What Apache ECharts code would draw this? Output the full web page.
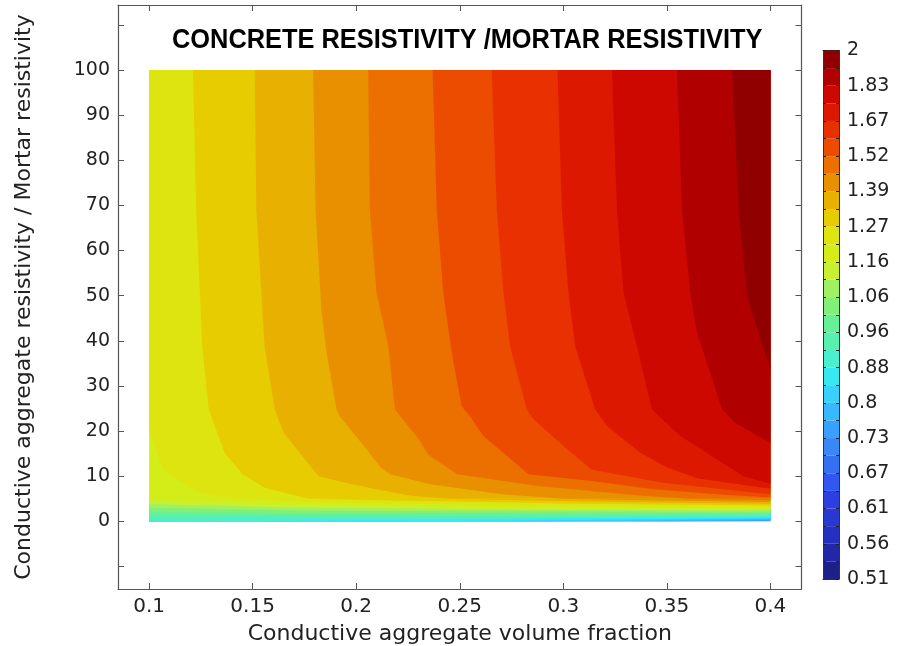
<!DOCTYPE html>
<html><head><meta charset="utf-8">
<script src="https://cdn.jsdelivr.net/npm/echarts@6/dist/echarts.min.js"></script>
<style>html,body{margin:0;padding:0;background:#fff}#c{width:901px;height:646px}</style>
</head><body><div id="c"></div>
<script>
// ---- contour levels (log-spaced, 30 bands) ----
const levels = [0.51,0.53377,0.55864,0.58467,0.61191,0.64043,0.67027,0.70150,0.73419,0.76840,
  0.80421,0.84168,0.88090,0.92195,0.96491,1.00987,1.05693,1.10618,1.15772,1.21167,
  1.26813,1.32722,1.38907,1.45379,1.52154,1.59243,1.66664,1.74430,1.82558,1.91065,2.0];
const bandColors = ['#1c2088','#2028a8','#2430c0','#2838d0','#2c40e0','#3058f0','#3470f0','#3888f8','#38a0ff','#38b8ff',
  '#38d0ff','#38e8f0','#48f0d0','#58f0b0','#68f098','#80f078','#a0f060','#c8f030','#d4ec18','#dde40f',
  '#e6cc00','#e8b000','#e89000','#ec7000','#ec4c00','#e83000','#dc1800','#cc0800','#b00000','#900000'];
const cbarTickLabels = ['0.51','0.56','0.61','0.67','0.73','0.8','0.88','0.96','1.06','1.16','1.27','1.39','1.52','1.67','1.83','2'];
const xTicks = [0.1,0.15,0.2,0.25,0.3,0.35,0.4];
const xTickLabels = ['0.1','0.15','0.2','0.25','0.3','0.35','0.4'];
const yTicks = [-10,0,10,20,30,40,50,60,70,80,90,100,110];
const yLabelValues = [0,10,20,30,40,50,60,70,80,90,100];
const yTickLabels = ['0','10','20','30','40','50','60','70','80','90','100'];

// ---- contour lines of the upper region (x = volume fraction, y = resistivity ratio) ----
const contour19 = [[0.1,20.4],[0.1067,11.5],[0.1244,6.35],[0.14,5]];
const contour20 = [[0.1212,100],[0.1228,69],[0.1257,38.8],[0.1288,24.8],[0.1365,15.2],[0.1452,10.4],[0.1558,7.46],[0.177,5]];
const contour21 = [[0.151,100],[0.1518,69],[0.1542,50.7],[0.1558,38.8],[0.1607,24.8],[0.165,19.6],[0.1818,10],[0.1948,8.56],[0.2099,7.08],[0.2272,5.6],[0.245,5]];
const contour22 = [[0.1792,100],[0.1804,69],[0.1833,46.2],[0.1857,37.4],[0.1905,24.8],[0.1921,23.3],[0.2012,18.1],[0.2119,11.9],[0.2163,10.4],[0.2356,8.19],[0.2703,5.97],[0.3,5]];
const contour23 = [[0.2058,100],[0.2066,69],[0.2098,50.7],[0.2155,38.8],[0.2187,24.8],[0.2303,18.1],[0.2347,14.8],[0.2487,10.4],[0.2876,7.81],[0.3351,5.75],[0.36,5]];
const contour24 = [[0.2369,100],[0.2389,69],[0.242,50.7],[0.2461,37.4],[0.2509,25.5],[0.2549,23.3],[0.2614,18.9],[0.2832,10.4],[0.3135,8.92],[0.3437,7.08],[0.3739,5.97],[0.4,5.3]];
const contour25 = [[0.2654,100],[0.2679,69],[0.2711,50.7],[0.2743,38.8],[0.2824,24.8],[0.2856,22.6],[0.3001,16.7],[0.3135,11.5],[0.348,8.56],[0.4,6.0]];
const contour26 = [[0.2972,100],[0.2993,69],[0.3025,50.7],[0.3057,38.8],[0.3154,24.8],[0.3211,21.1],[0.3372,15.2],[0.3502,11.9],[0.3652,9.5],[0.4,7.2]];
const contour27 = [[0.3235,100],[0.3259,69],[0.3291,50.7],[0.3363,37.4],[0.3428,24.8],[0.3565,18.9],[0.387,10],[0.4,8.3]];
const contour28 = [[0.3549,100],[0.3573,69],[0.3613,50.7],[0.3646,41.8],[0.3767,24.8],[0.3831,21.8],[0.4,17.4]];
const contour29 = [[0.3815,100],[0.3847,69],[0.3887,49.8],[0.4,33.6]];
const upperContours = [
  {k:19, pts:contour19},{k:20, pts:contour20},{k:21, pts:contour21},{k:22, pts:contour22},
  {k:23, pts:contour23},{k:24, pts:contour24},{k:25, pts:contour25},{k:26, pts:contour26},
  {k:27, pts:contour27},{k:28, pts:contour28},{k:29, pts:contour29}];

// ---- bottom strip: field values on two rows ----
const stripY = [0, 5];
const stripX  = [0.1,0.125,0.15,0.175,0.2,0.225,0.25,0.275,0.3,0.325,0.35,0.375,0.4];
const stripV0 = [0.89,0.885,0.875,0.865,0.855,0.845,0.835,0.82,0.805,0.79,0.77,0.75,0.725];
const stripV5 = [1.17,1.195,1.225,1.265,1.288,1.308,1.331,1.357,1.388,1.415,1.442,1.47,1.50];

const X0 = stripX[0], X1 = stripX[stripX.length-1], YTOP = 100;

function renderField(params, api) {
  const P = p => api.coord(p);
  const children = [];
  const poly = (pts, color) => ({type:'polygon', shape:{points:pts.map(P)}, style:{fill:color}});
  const y0 = stripY[0], y1 = stripY[1];
  const yOver = y1 + 0.5;   // strip polygons slip slightly under the upper region (no seam)
  // strip (drawn first)
  children.push(poly([[X0,y0],[X1,y0],[X1,yOver],[X0,yOver]], bandColors[7]));
  for (let k = 8; k <= 24; k++) {
    const L = levels[k];
    const ts = stripX.map((x,i) => Math.max(0, Math.min(1, (L - stripV0[i]) / (stripV5[i] - stripV0[i]))));
    if (ts.every(t => t >= 1)) continue;
    const line = stripX.map((x,i) => [x, y0 + ts[i]*(y1-y0)]);
    const top = stripX.map((x,i) => [x, ts[i] < 1 ? yOver : y1]).reverse();
    children.push(poly(line.concat(top), bandColors[k]));
  }
  // upper region
  children.push(poly([[X0,y1],[X1,y1],[X1,YTOP],[X0,YTOP]], bandColors[18]));
  upperContours.forEach(c => {
    const pts = c.pts.slice();
    const first = pts[0], last = pts[pts.length-1];
    if (last[0] < X1 - 1e-9) pts.push([X1, last[1]]);
    pts.push([X1, YTOP]);
    if (first[1] < YTOP) pts.push([X0, YTOP]);
    children.push(poly(pts, bandColors[c.k]));
  });
  return {type:'group', children};
}

function renderCbar(params, api) {
  const k = api.value(0);
  const a = api.coord([0, k]), b = api.coord([1, k+1]);
  return {type:'rect', shape:{x:a[0], y:b[1], width:b[0]-a[0], height:a[1]-b[1]}, style:{fill:bandColors[k]}};
}

const lineCol = '#555';
const font = 'DejaVu Sans';
const lbl = (arr, vals) => v => { const i = vals.findIndex(t => Math.abs(t - v) < 1e-9); return i >= 0 ? arr[i] : ''; };
const cbarIdx = bandColors.map((c,i) => [i]);
const cbarAll = levels.map((l,i) => i);
const cbarLabelPos = cbarTickLabels.map((t,i) => 2*i);
const frameLine = {show:true, onZero:false, lineStyle:{color:lineCol, width:1.2}};
const cbLine = {show:true, onZero:false, lineStyle:{color:'#333', width:1}};

const chart = echarts.init(document.getElementById('c'));
chart.setOption({
  animation: false,
  backgroundColor: '#fff',
  graphic: [{type:'text', x:172, y:27, scaleX:0.94, z:10,
    style:{text:'CONCRETE RESISTIVITY /MORTAR RESISTIVITY', fill:'#000',
      font:'bold 27px "Liberation Sans", Arial, sans-serif'}}],
  grid: [
    {left:118, right:99.5, top:5, bottom:57, containLabel:false, outerBoundsMode:'none'},
    {left:823, right:62, top:50.5, bottom:67, containLabel:false, outerBoundsMode:'none'}
  ],
  xAxis: [
    {gridIndex:0, type:'value', min:0.085, max:0.415, position:'bottom',
      axisLine:frameLine,
      axisTick:{show:true, inside:true, length:6, customValues:xTicks, lineStyle:{color:lineCol}},
      axisLabel:{customValues:xTicks, formatter:lbl(xTickLabels, xTicks), fontFamily:font, fontSize:20, color:'#222', margin:8},
      splitLine:{show:false},
      name:'Conductive aggregate volume fraction', nameLocation:'middle', nameGap:34,
      nameTextStyle:{fontFamily:font, fontSize:22, color:'#222'}},
    {gridIndex:0, type:'value', min:0.085, max:0.415, position:'top',
      axisLine:frameLine,
      axisTick:{show:true, inside:true, length:6, customValues:xTicks, lineStyle:{color:lineCol}},
      axisLabel:{show:false}, splitLine:{show:false}},
    {gridIndex:1, type:'value', min:0, max:1, position:'bottom',
      axisLine:cbLine, axisTick:{show:false}, axisLabel:{show:false}, splitLine:{show:false}},
    {gridIndex:1, type:'value', min:0, max:1, position:'top',
      axisLine:cbLine, axisTick:{show:false}, axisLabel:{show:false}, splitLine:{show:false}}
  ],
  yAxis: [
    {gridIndex:0, type:'value', min:-15, max:114.4, position:'left',
      axisLine:frameLine,
      axisTick:{show:true, inside:true, length:6, customValues:yTicks, lineStyle:{color:lineCol}},
      axisLabel:{customValues:yLabelValues, formatter:lbl(yTickLabels, yLabelValues), fontFamily:font, fontSize:19, color:'#222', margin:8},
      splitLine:{show:false},
      name:'Conductive aggregate resistivity / Mortar resistivity', nameLocation:'middle', nameGap:83, nameRotate:90,
      nameTextStyle:{fontFamily:font, fontSize:22, color:'#222'}},
    {gridIndex:0, type:'value', min:-15, max:114.4, position:'right',
      axisLine:frameLine,
      axisTick:{show:true, inside:true, length:6, customValues:yTicks, lineStyle:{color:lineCol}},
      axisLabel:{show:false}, splitLine:{show:false}},
    {gridIndex:1, type:'value', min:0, max:30, position:'right',
      axisLine:cbLine,
      axisTick:{show:true, inside:true, length:3, customValues:cbarAll, lineStyle:{color:'#222'}},
      axisLabel:{customValues:cbarLabelPos, formatter:v => cbarTickLabels[Math.round(v/2)], fontFamily:font, fontSize:19, color:'#222', margin:8},
      splitLine:{show:false}, z:5},
    {gridIndex:1, type:'value', min:0, max:30, position:'left',
      axisLine:cbLine,
      axisTick:{show:true, inside:true, length:3, customValues:cbarAll, lineStyle:{color:'#222'}},
      axisLabel:{show:false}, splitLine:{show:false}, z:5}
  ],
  series: [
    {type:'custom', xAxisIndex:0, yAxisIndex:0, coordinateSystem:'cartesian2d', clip:false,
      renderItem:renderField, data:[[0]], silent:true, z:1},
    {type:'custom', xAxisIndex:2, yAxisIndex:2, coordinateSystem:'cartesian2d', clip:false,
      renderItem:renderCbar, data:cbarIdx, silent:true, z:1}
  ]
});
</script></body></html>
